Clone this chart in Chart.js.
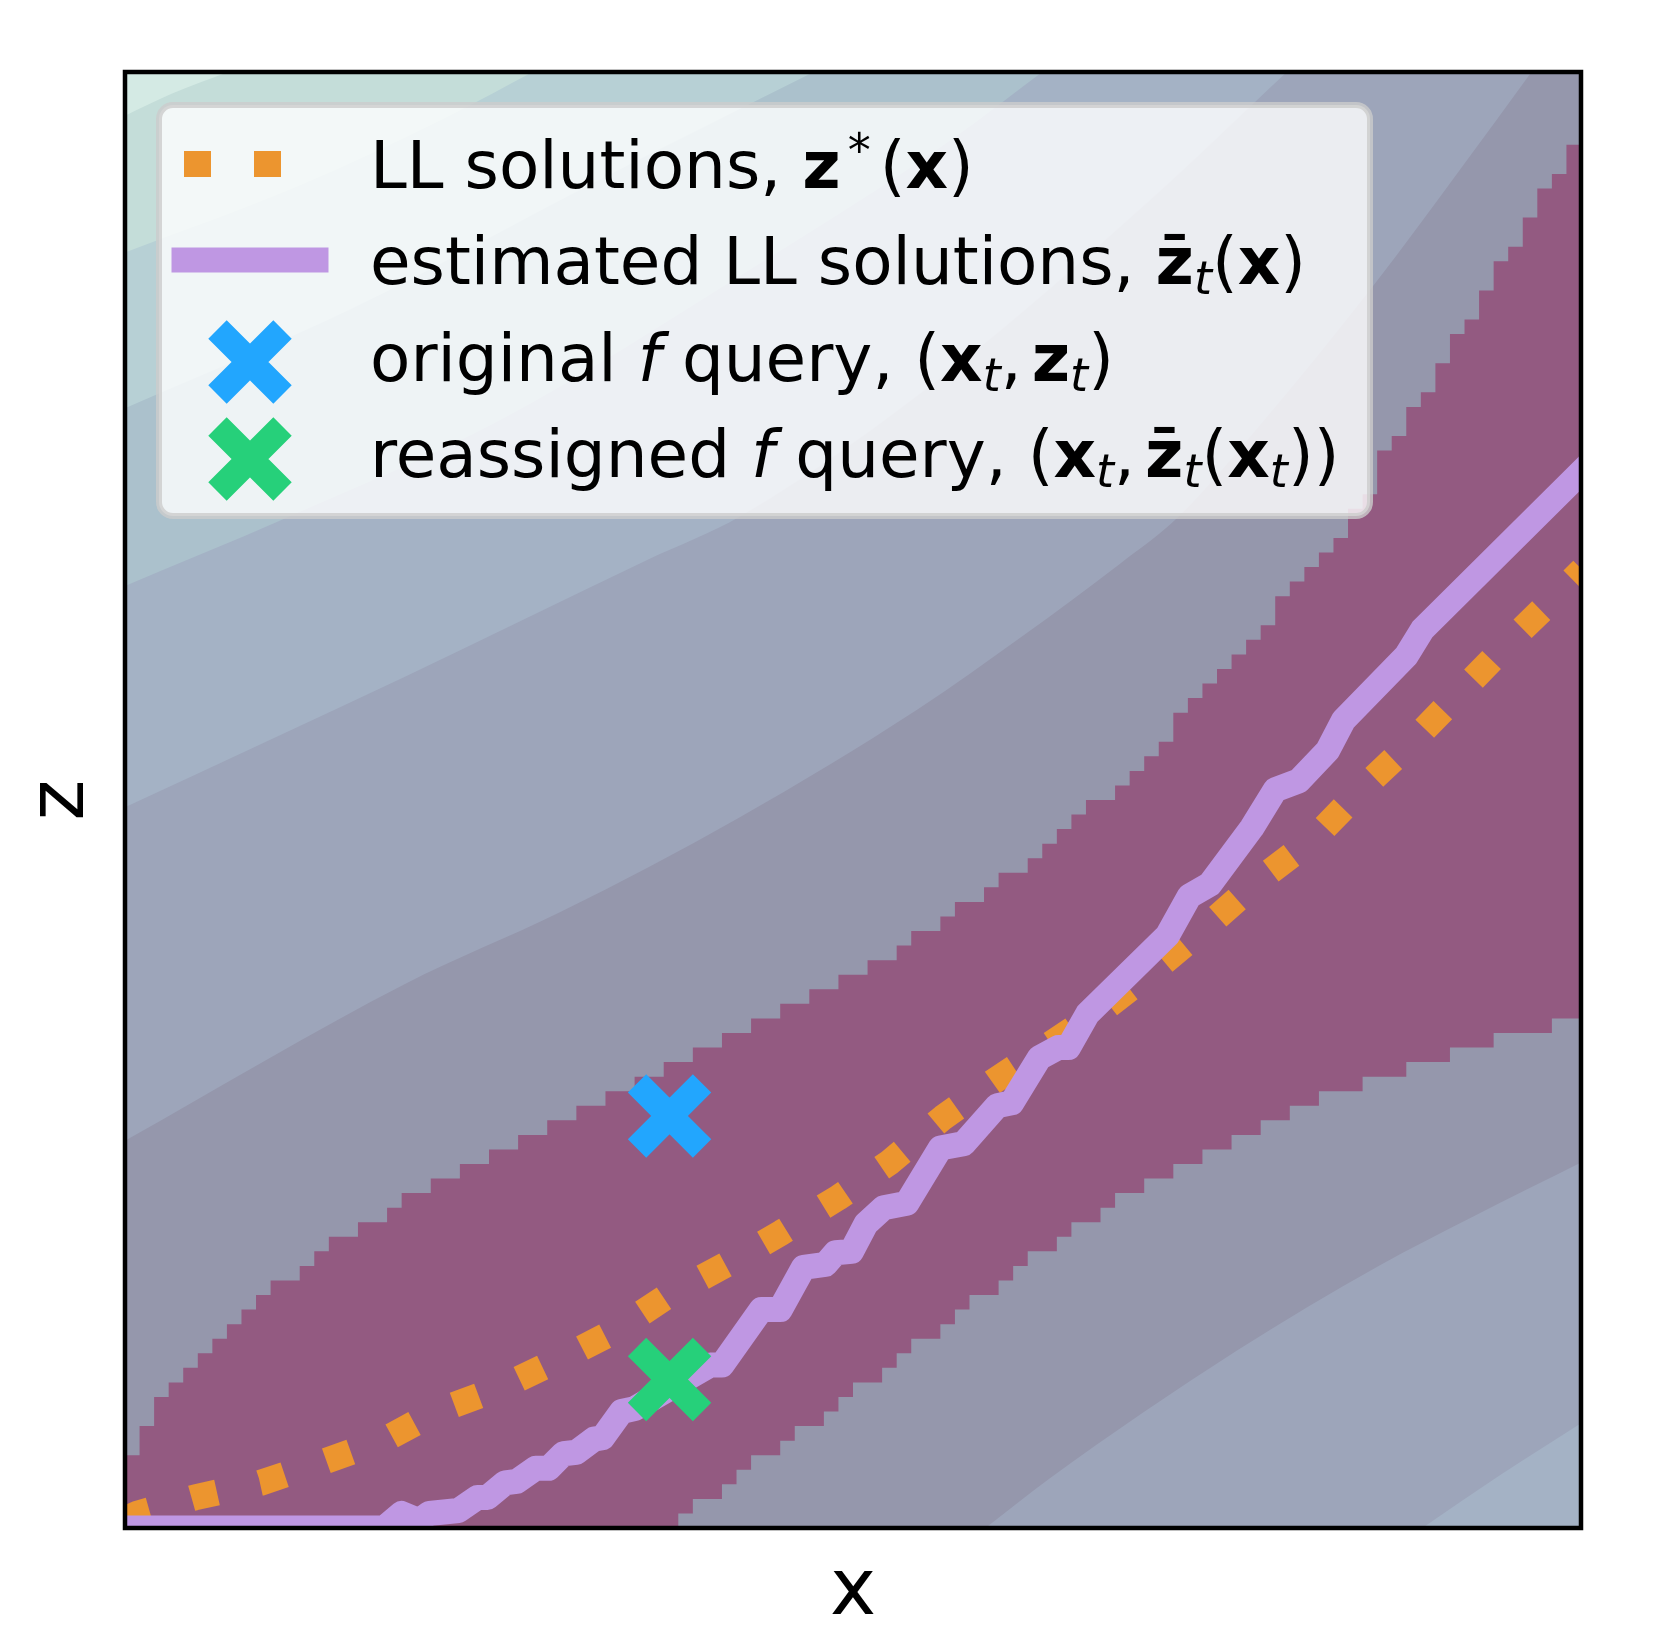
<!DOCTYPE html>
<html>
<head>
<meta charset="utf-8">
<script src="https://cdn.jsdelivr.net/npm/chart.js@4.4.1/dist/chart.umd.min.js"></script>
<style>
  html, body { margin: 0; padding: 0; background: #fff; }
  canvas { display: block; }
</style>
</head>
<body>
<canvas id="chart" width="1659" height="1648"></canvas>
<script>
// contour edges of the background, x and z in percent of the axes (lightest band first)
const edge1X = [0, 3.2, 7.1];
const edge1Z = [97.0, 98.5, 100];
const edge2X = [0, 12.0, 22.3, 28.0];
const edge2Z = [87.6, 92.2, 97.0, 100];
const edge3X = [0, 15.5, 32.6, 47.3];
const edge3Z = [76.9, 83.7, 92.6, 100];
const edge4X = [0, 10.9, 25.8, 42.9, 56.7, 63.0];
const edge4Z = [64.7, 69.3, 76.1, 86.4, 95.3, 100];
const edge5X = [0, 19.3, 35.9, 42.3, 56.7, 70.4, 79.8];
const edge5Z = [49.5, 58.5, 66.5, 69.5, 79.5, 91.2, 100];
const edge6X = [0, 19.3, 29.9, 42.2, 54.4, 61.7, 68.3, 72.3, 78.0, 85.8, 91.7, 96.6];
const edge6Z = [26.6, 37.4, 42.3, 48.8, 56.2, 61.3, 66.2, 69.4, 75.8, 85.4, 93.3, 100];
const lowEdge1X = [59.1, 63.5, 76.4, 86.1, 92.6, 100];
const lowEdge1Z = [0, 3.4, 12.2, 18.0, 21.4, 25.1];
const lowEdge2X = [89.1, 94.4, 100];
const lowEdge2Z = [0, 3.6, 7.2];
const bandColors = ['#d4eae4', '#c4ddd9', '#b7d0d5', '#abc1cc', '#a4b2c5', '#9da5ba', '#9597ac'];

// stepped region around the LL solutions, one height per grid column (100 columns)
const regionTop = [
  5, 7, 9, 10, 11, 12, 13, 14, 15, 16,
  17, 17, 18, 19, 20, 20, 21, 21, 22, 23,
  23, 24, 24, 25, 25, 26, 26, 27, 27, 28,
  28, 29, 29, 30, 30, 31, 31, 32, 32, 33,
  33, 34, 34, 35, 35, 36, 36, 37, 37, 38,
  38, 39, 39, 40, 41, 41, 42, 43, 43, 44,
  45, 45, 46, 47, 48, 49, 50, 50, 51, 52,
  53, 54, 56, 57, 58, 59, 60, 61, 62, 64,
  65, 66, 67, 68, 70, 71, 74, 75, 77, 78,
  80, 82, 83, 85, 87, 88, 90, 92, 93, 95
];
const regionBottom = [
  0, 0, 0, 0, 0, 0, 0, 0, 0, 0,
  0, 0, 0, 0, 0, 0, 0, 0, 0, 0,
  0, 0, 0, 0, 0, 0, 0, 0, 0, 0,
  0, 0, 0, 0, 0, 0, 0, 0, 1, 2,
  2, 3, 4, 5, 5, 6, 7, 7, 8, 9,
  10, 10, 11, 12, 13, 13, 14, 15, 16, 16,
  17, 18, 19, 19, 20, 21, 21, 22, 23, 23,
  24, 24, 25, 25, 26, 26, 27, 27, 28, 28,
  29, 29, 30, 30, 30, 31, 31, 31, 32, 32,
  32, 33, 33, 33, 34, 34, 34, 34, 35, 35
];
const regionColor = '#935a81';

// LL solutions z*(x)
const llX = [0, 0.9, 4.8, 9.3, 13.5, 17.7, 21.4, 25.7, 29.7, 33.6, 37.2, 41.3, 45.1, 49.0, 52.5,
  56.2, 59.7, 63.5, 67.3, 70.9, 74.5, 78.0, 81.7, 85.0, 88.5, 91.8, 95.2, 98.6, 100.1];
const llZ = [0.6, 1.0, 2.1, 3.1, 4.5, 6.0, 8.0, 9.6, 11.5, 13.5, 15.9, 18.1, 20.3, 22.7, 25.1,
  28.2, 30.7, 33.2, 35.7, 38.5, 41.5, 44.6, 47.4, 50.8, 54.1, 57.5, 61.0, 64.3, 65.8];

// estimated LL solutions
const estX = [-1, 17.8, 19.0, 20.2, 20.9, 22.9, 24.2, 24.9, 26.1, 26.9, 28.2, 29.1, 30.1, 31.0,
  32.2, 32.8, 34.1, 35.0, 40.2, 41.0, 43.7, 45.0, 46.6, 48.1, 48.8, 49.9, 50.9, 52.1, 53.7,
  56.0, 57.6, 59.9, 60.9, 62.8, 64.1, 64.8, 66.1, 71.6, 73.1, 74.5, 77.4, 79.0, 80.6, 82.6,
  83.7, 88.0, 89.1, 102];
const estZ = [0, 0, 1.0, 0.5, 1.0, 1.2, 2.1, 2.1, 3.1, 3.2, 4.1, 4.1, 5.1, 5.2,
  6.1, 6.2, 8.0, 8.2, 11.2, 11.2, 15.0, 15.0, 17.9, 18.1, 18.9, 19.0, 20.9, 22.0, 22.3,
  26.1, 26.4, 29.0, 29.2, 32.3, 33.0, 33.0, 35.3, 40.7, 43.4, 44.2, 48.1, 50.7, 51.3, 53.4,
  55.5, 59.9, 61.7, 74.5];

// queries
const queryX = [37.4];
const originalZ = [28.3];
const reassignedZ = [10.2];

const seriesLabels = [
  'LL solutions, z*(x)',
  'estimated LL solutions, z\u0304t(x)',
  'original f query, (xt, zt)',
  'reassigned f query, (xt, z\u0304t(xt))'
];
// rich text of the legend entries: [text, style, extra advance after]
const legendRuns = [
  [['LL solutions, ', 'r'], ['z', 'b'], ['*', 'sup'], ['(', 'r'], ['x', 'b'], [')', 'r']],
  [['estimated LL solutions, ', 'r'], ['z\u0304', 'b'], ['t', 'sub'], ['(', 'r'], ['x', 'b'], [')', 'r']],
  [['original ', 'r'], ['f', 'i'], [' query, (', 'r'], ['x', 'b'], ['t', 'sub'], [',', 'r', 10],
   ['z', 'b'], ['t', 'sub'], [')', 'r']],
  [['reassigned ', 'r'], ['f', 'i'], [' query, (', 'r'], ['x', 'b'], ['t', 'sub'], [',', 'r', 10],
   ['z\u0304', 'b'], ['t', 'sub'], ['(', 'r'], ['x', 'b'], ['t', 'sub'], ['))', 'r']]
];

const FAMILY = '"DejaVu Sans"';

function pts(xs, zs) {
  return xs.map((x, i) => ({x: x, y: zs[i]}));
}

function columns(heights) {
  const out = heights.map((h, i) => ({x: i, y: h}));
  out.push({x: heights.length, y: heights[heights.length - 1]});
  return out;
}

function band(xs, zs, color, fill, order) {
  return {
    data: pts(xs, zs), backgroundColor: color, borderWidth: 0, pointRadius: 0,
    fill: fill, cubicInterpolationMode: 'monotone', order: order, clip: 0
  };
}

function marker(label, z, color, order) {
  return {
    label: label, data: pts(queryX, z), showLine: false, order: order, clip: 0,
    pointStyle: 'crossRot', pointRadius: 46, pointHoverRadius: 46,
    pointBorderWidth: 26, pointBorderColor: color, pointBackgroundColor: color
  };
}

const datasets = [
  band(edge6X, edge6Z, bandColors[5], 'end', 20),
  band(edge5X, edge5Z, bandColors[4], 'end', 19),
  band(edge4X, edge4Z, bandColors[3], 'end', 18),
  band(edge3X, edge3Z, bandColors[2], 'end', 17),
  band(edge2X, edge2Z, bandColors[1], 'end', 16),
  band(edge1X, edge1Z, bandColors[0], 'end', 15),
  {
    data: columns(regionTop), stepped: 'before', backgroundColor: regionColor,
    borderWidth: 0, pointRadius: 0, fill: 'start', order: 10, clip: 0
  },
  {
    data: columns(regionBottom), stepped: 'before', backgroundColor: bandColors[6],
    borderWidth: 0, pointRadius: 0, fill: 'start', order: 9, clip: 0
  },
  band(lowEdge1X, lowEdge1Z, bandColors[5], 'start', 8),
  band(lowEdge2X, lowEdge2Z, bandColors[4], 'start', 7),
  {
    label: seriesLabels[0], data: pts(llX, llZ), borderColor: '#ec952f',
    borderWidth: 26, borderDash: [26, 44], borderCapStyle: 'butt', borderJoinStyle: 'round',
    pointRadius: 0, fill: false, tension: 0, order: 3, clip: 0
  },
  {
    label: seriesLabels[1], data: pts(estX, estZ), borderColor: '#bf97e3',
    borderWidth: 25, borderJoinStyle: 'round', pointRadius: 0, fill: false,
    tension: 0, order: 2, clip: 0
  },
  marker(seriesLabels[2], originalZ, '#22a6fe', 1),
  marker(seriesLabels[3], reassignedZ, '#26d07a', 0)
];

const plotBackground = {
  id: 'plotBackground',
  beforeDatasetsDraw(chart) {
    const {ctx, chartArea: a} = chart;
    ctx.save();
    ctx.fillStyle = bandColors[6];
    ctx.fillRect(a.left, a.top, a.width, a.height);
    ctx.restore();
  }
};

function runFont(style) {
  if (style === 'b') return 'bold 66px ' + FAMILY;
  if (style === 'i') return 'italic 66px ' + FAMILY;
  if (style === 'sub') return 'italic 46px ' + FAMILY;
  if (style === 'sup') return '46px ' + FAMILY;
  return '66px ' + FAMILY;
}

function drawRuns(ctx, runs, x, y) {
  for (const [text, style, extra] of runs) {
    ctx.font = runFont(style);
    const dy = style === 'sub' ? 10 : (style === 'sup' ? -22 : 0);
    if (style === 'sup') x += 7;
    ctx.fillText(text, x, y + dy);
    x += ctx.measureText(text).width + (extra || 0);
    if (style === 'sup') x += 9;
  }
}

function drawCross(ctx, x, y, ds) {
  const r = ds.pointRadius, o = Math.SQRT1_2 * r;
  ctx.save();
  ctx.strokeStyle = ds.pointBorderColor;
  ctx.lineWidth = ds.pointBorderWidth;
  ctx.lineCap = 'butt';
  ctx.beginPath();
  ctx.moveTo(x - o, y - o); ctx.lineTo(x + o, y + o);
  ctx.moveTo(x + o, y - o); ctx.lineTo(x - o, y + o);
  ctx.stroke();
  ctx.restore();
}

const frameAndLegend = {
  id: 'frameAndLegend',
  afterDraw(chart) {
    const {ctx, chartArea: a} = chart;
    const ds = chart.data.datasets;
    ctx.save();

    // axes frame
    ctx.strokeStyle = '#000';
    ctx.lineWidth = 4.5;
    ctx.strokeRect(a.left, a.top, a.width, a.height);

    // axis labels
    ctx.fillStyle = '#000';
    ctx.font = '78px ' + FAMILY;
    ctx.textAlign = 'center';
    ctx.textBaseline = 'alphabetic';
    ctx.fillText('x', (a.left + a.right) / 2, 1614);
    ctx.save();
    ctx.translate(83, (a.top + a.bottom) / 2);
    ctx.rotate(-Math.PI / 2);
    ctx.fillText('z', 0, 0);
    ctx.restore();

    // legend box
    ctx.beginPath();
    ctx.roundRect(159, 105, 1211, 411, 14);
    ctx.fillStyle = 'rgba(255,255,255,0.8)';
    ctx.fill();
    ctx.lineWidth = 6;
    ctx.strokeStyle = 'rgba(204,204,204,0.8)';
    ctx.stroke();

    const handleY = [164, 260, 362, 459];
    const baseY = [188, 284, 381, 477];
    const ll = ds[10], est = ds[11];

    ctx.save();
    ctx.strokeStyle = ll.borderColor;
    ctx.lineWidth = ll.borderWidth;
    ctx.lineCap = 'butt';
    ctx.setLineDash([27, 43]);
    ctx.beginPath();
    ctx.moveTo(184, handleY[0]); ctx.lineTo(316, handleY[0]);
    ctx.stroke();
    ctx.restore();

    ctx.save();
    ctx.strokeStyle = est.borderColor;
    ctx.lineWidth = est.borderWidth;
    ctx.lineCap = 'square';
    ctx.beginPath();
    ctx.moveTo(184, handleY[1]); ctx.lineTo(316, handleY[1]);
    ctx.stroke();
    ctx.restore();

    drawCross(ctx, 250, handleY[2], ds[12]);
    drawCross(ctx, 250, handleY[3], ds[13]);

    ctx.fillStyle = '#000';
    ctx.textAlign = 'left';
    legendRuns.forEach((runs, i) => drawRuns(ctx, runs, 370, baseY[i]));

    ctx.restore();
  }
};

new Chart(document.getElementById('chart'), {
  type: 'line',
  data: { datasets: datasets },
  options: {
    responsive: false,
    devicePixelRatio: 1,
    animation: false,
    events: [],
    layout: { padding: { left: 125, top: 72, right: 78, bottom: 120 } },
    scales: {
      x: { type: 'linear', min: 0, max: 100, display: false },
      y: { type: 'linear', min: 0, max: 100, display: false }
    },
    plugins: {
      legend: { display: false },
      tooltip: { enabled: false }
    }
  },
  plugins: [plotBackground, frameAndLegend]
});
</script>
</body>
</html>
